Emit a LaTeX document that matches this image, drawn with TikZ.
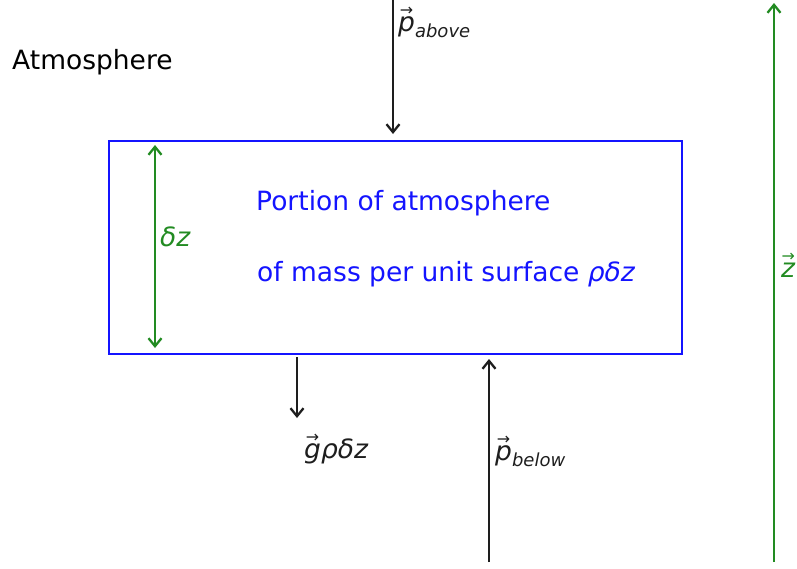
\documentclass[tikz,border=0pt]{standalone}
\usepackage{fontspec}
\setmainfont{DejaVu Sans}
\usetikzlibrary{arrows.meta}
\definecolor{mygreen}{RGB}{34,139,34}
\definecolor{myblue}{RGB}{20,20,255}
\definecolor{myblack}{RGB}{30,30,30}
\newcommand\myvec[1]{\ooalign{#1\cr\hfil\raisebox{0.6em}{\scalebox{0.6}{→}}\hfil\cr}}
\tikzset{
  lab/.style={inner sep=0pt, anchor=base west, font=\fontsize{26.5}{30}\selectfont},
  arr/.style={line width=2.3pt, -{Straight Barb[length=8pt,width=13pt]}}
}
\newcommand\subt[1]{\raisebox{-0.25em}{\fontsize{18}{19}\selectfont #1}}
\begin{document}
\begin{tikzpicture}[x=1pt,y=-1pt]
\useasboundingbox (0,0) rectangle (797,568);
\node[draw=myblue, line width=2.2pt, minimum width=573pt, minimum height=213pt, inner sep=0pt, anchor=north west] (box) at (108,140) {};
\node[lab] (atm) at (12,69) {Atmosphere};
\node[lab, text=myblue] (l1) at (256,210) {Portion of atmosphere};
\node[lab, text=myblue] (l2) at (257,281) {of mass per unit surface \textit{ρδz}};
% p above
\coordinate (pa0) at (393,0);
\coordinate (pa1) at (393,134);
\draw[arr, myblack] (pa0) -- (pa1);
\node[lab, myblack] (pal) at (398,31) {\itshape\myvec{p}\subt{above}};
% delta z
\coordinate (dz1) at (155,145);
\coordinate (dz2) at (155,348);
\draw[arr, mygreen, {Straight Barb[length=8pt,width=13pt]}-{Straight Barb[length=8pt,width=13pt]}] (dz1) -- (dz2);
\node[lab, text=mygreen] (dzl) at (160,246) {\itshape δz};
% g
\coordinate (g0) at (297,357);
\coordinate (g1) at (297,418);
\draw[arr, myblack] (g0) -- (g1);
\node[lab, myblack] (gl) at (304,458) {\itshape\myvec{g}ρδz};
% p below
\coordinate (pb0) at (489,562);
\coordinate (pb1) at (489,359);
\draw[arr, myblack] (pb0) -- (pb1);
\node[lab, myblack] (pbl) at (495,460) {\itshape\myvec{p}\subt{below}};
% z
\coordinate (z0) at (774,562);
\coordinate (z1) at (774,3);
\draw[arr, mygreen] (z0) -- (z1);
\node[lab, text=mygreen] (zl) at (781,277) {\itshape\myvec{z}};
\end{tikzpicture}
\end{document}
